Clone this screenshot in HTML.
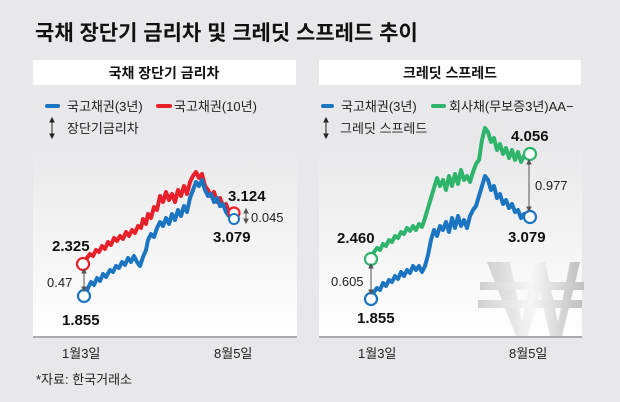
<!DOCTYPE html>
<html><head><meta charset="utf-8"><style>
body{margin:0;width:620px;height:402px;background:#e8e8ea;overflow:hidden;font-family:"Liberation Sans","Noto Sans CJK KR",sans-serif}
</style></head><body>
<svg width="620" height="402" xmlns="http://www.w3.org/2000/svg" style="position:absolute;left:0;top:0;font-family:'Liberation Sans','Noto Sans CJK KR',sans-serif">
<defs>
<linearGradient id="g" x1="0" y1="0" x2="0" y2="1"><stop offset="0" stop-color="#e8e8ea"/><stop offset="1" stop-color="#ffffff"/></linearGradient>
<linearGradient id="w" x1="0" y1="0" x2="1" y2="0"><stop offset="0" stop-color="#d0d0d0"/><stop offset="0.5" stop-color="#f6f6f6"/><stop offset="1" stop-color="#c0c0c0"/></linearGradient>
</defs>
<rect x="33" y="140" width="264" height="196" fill="url(#g)"/>
<rect x="319" y="140" width="263" height="196" fill="url(#g)"/>
<text x="35" y="40" font-size="21" font-weight="bold" fill="#111">국채 장단기 금리차 및 크레딧 스프레드 추이</text>
<rect x="33" y="60" width="263" height="25" fill="#fff"/>
<rect x="319" y="60" width="262" height="25" fill="#fff"/>
<text x="164" y="78" font-size="14" font-weight="bold" text-anchor="middle" fill="#111">국채 장단기 금리차</text>
<text x="450" y="78" font-size="14" font-weight="bold" text-anchor="middle" fill="#111">크레딧 스프레드</text>
<g font-size="13" fill="#222">
<line x1="47" y1="106" x2="58" y2="106" stroke="#1b75c0" stroke-width="4" stroke-linecap="round"/><text x="67" y="111">국고채권(3년)</text>
<line x1="158" y1="106" x2="170" y2="106" stroke="#e8202a" stroke-width="4" stroke-linecap="round"/><text x="174" y="111">국고채권(10년)</text>
<text x="67" y="133">장단기금리차</text>
<line x1="323" y1="106" x2="332" y2="106" stroke="#1b75c0" stroke-width="4" stroke-linecap="round"/><text x="341" y="111">국고채권(3년)</text>
<line x1="433" y1="106" x2="444" y2="106" stroke="#2fb56b" stroke-width="4" stroke-linecap="round"/><text x="449" y="111">회사채(무보증3년)AA−</text>
<text x="340" y="133">그레딧 스프레드</text>
</g>
<g stroke="#222" stroke-width="1" fill="#222">
<line x1="52" y1="120" x2="52" y2="136"/><path d="M50,122 L52,118 L54,122Z M50,134 L52,138 L54,134Z"/>
<line x1="326" y1="120" x2="326" y2="136"/><path d="M324,122 L326,118 L328,122Z M324,134 L326,138 L328,134Z"/>
</g>
<g fill="url(#w)">
<path d="M487,262 L510,262 L522,322 L535,262 L545,262 L558,322 L570,262 L580,262 L562,336 L550,336 L540,292 L528,336 L516,336 Z"/>
<rect x="480" y="282" width="104" height="8"/><rect x="478" y="300" width="104" height="8"/>
</g>
<line x1="33" y1="337" x2="297" y2="337" stroke="#aaa" stroke-width="2"/>
<line x1="319" y1="337" x2="582" y2="337" stroke="#aaa" stroke-width="2"/>
<polyline fill="none" stroke="#e8202a" stroke-width="4" stroke-linejoin="round" points="83,264 87,258 90,254 93,256 96,250 99,252 102,246 105,249 108,242 111,245 114,238 117,241 120,236 123,239 126,232 129,236 132,230 135,233 138,226 141,228 143,219 146,224 148,214 151,218 154,207 157,210 160,196 163,202 166,192 169,200 172,194 175,202 178,190 181,196 184,186 187,194 190,182 193,176 196,172 199,178 202,174 205,186 208,190 211,196 214,192 217,202 220,198 223,206 226,204 229,212 232,210 234,213"/>
<polyline fill="none" stroke="#1b75c0" stroke-width="4" stroke-linejoin="round" points="85,296 88,288 91,282 94,285 97,278 100,281 103,274 106,277 110,270 113,272 116,266 119,268 122,262 125,265 128,258 131,262 134,256 137,262 140,266 143,257 146,250 148,240 151,234 154,237 157,228 160,222 163,226 166,218 169,224 172,214 175,220 178,210 181,216 184,206 187,212 190,198 193,190 196,182 199,186 202,180 205,190 208,196 211,194 214,202 217,198 220,206 223,204 226,212 229,216 234,217"/>
<circle cx="83" cy="264" r="6" fill="#fff" stroke="#e8202a" stroke-width="2.2"/>
<circle cx="84" cy="296" r="6" fill="#fff" stroke="#1b75c0" stroke-width="2.2"/>
<circle cx="234" cy="213" r="5.5" fill="#fff" stroke="#e8202a" stroke-width="2.2"/>
<circle cx="234" cy="219" r="5" fill="#fff" stroke="#1b75c0" stroke-width="2"/>
<g stroke="#555" fill="#555"><line x1="84" y1="271" x2="84" y2="289"/><path d="M82,273 L84,269 L86,273Z M82,287 L84,291 L86,287Z"/>
<line x1="246" y1="211" x2="246" y2="221"/><path d="M244,213 L246,209 L248,213Z M244,219 L246,223 L248,219Z"/></g>
<polyline fill="none" stroke="#2fb56b" stroke-width="4" stroke-linejoin="round" points="371,259 374,252 377,248 380,250 383,244 386,246 389,240 392,242 395,236 398,238 401,232 404,234 407,228 410,231 413,226 416,230 419,224 422,227 425,218 428,208 431,198 434,188 437,178 440,186 443,180 446,190 449,176 452,186 455,174 458,184 461,170 464,180 467,176 470,182 473,172 476,164 479,160 482,140 485,128 488,132 491,142 494,138 497,150 500,144 503,154 506,148 509,158 512,150 515,160 518,152 521,162 524,156 527,158 530,154"/>
<polyline fill="none" stroke="#1b75c0" stroke-width="4" stroke-linejoin="round" points="371,299 374,292 377,288 380,290 383,283 386,286 389,280 392,282 395,276 398,279 401,272 404,276 407,270 410,273 413,266 416,270 419,266 422,272 425,266 428,255 431,240 434,230 437,236 440,226 443,230 446,222 449,232 452,218 455,228 458,216 461,226 464,220 467,228 470,216 473,210 476,206 479,196 482,186 485,176 488,180 491,190 494,186 497,198 500,194 503,204 506,200 509,208 512,204 515,212 518,210 521,218 524,214 527,216 530,217"/>
<circle cx="371" cy="259" r="6" fill="#fff" stroke="#2fb56b" stroke-width="2.2"/>
<circle cx="371" cy="299" r="6" fill="#fff" stroke="#1b75c0" stroke-width="2.2"/>
<circle cx="530" cy="154" r="6" fill="#fff" stroke="#2fb56b" stroke-width="2.2"/>
<circle cx="530" cy="217" r="6" fill="#fff" stroke="#1b75c0" stroke-width="2.2"/>
<g stroke="#555" fill="#555"><line x1="371" y1="266" x2="371" y2="292"/><path d="M369,268 L371,264 L373,268Z M369,290 L371,294 L373,290Z"/>
<line x1="529" y1="162" x2="529" y2="209"/><path d="M527,164 L529,160 L531,164Z M527,207 L529,211 L531,207Z"/></g>
<g font-size="15" font-weight="bold" fill="#111">
<text x="52" y="251">2.325</text><text x="62" y="325">1.855</text>
<text x="228" y="201">3.124</text><text x="213" y="242">3.079</text>
<text x="337" y="243">2.460</text><text x="357" y="323">1.855</text>
<text x="511" y="141">4.056</text><text x="508" y="242">3.079</text>
</g>
<g font-size="13" fill="#222">
<text x="47" y="287">0.47</text><text x="251" y="222">0.045</text>
<text x="331" y="286">0.605</text><text x="535" y="190">0.977</text>
<text x="62" y="358">1월3일</text><text x="214" y="358">8월5일</text>
<text x="358" y="358">1월3일</text><text x="509" y="358">8월5일</text>
<text x="36" y="384">*자료: 한국거래소</text>
</g>
</svg>
</body></html>
